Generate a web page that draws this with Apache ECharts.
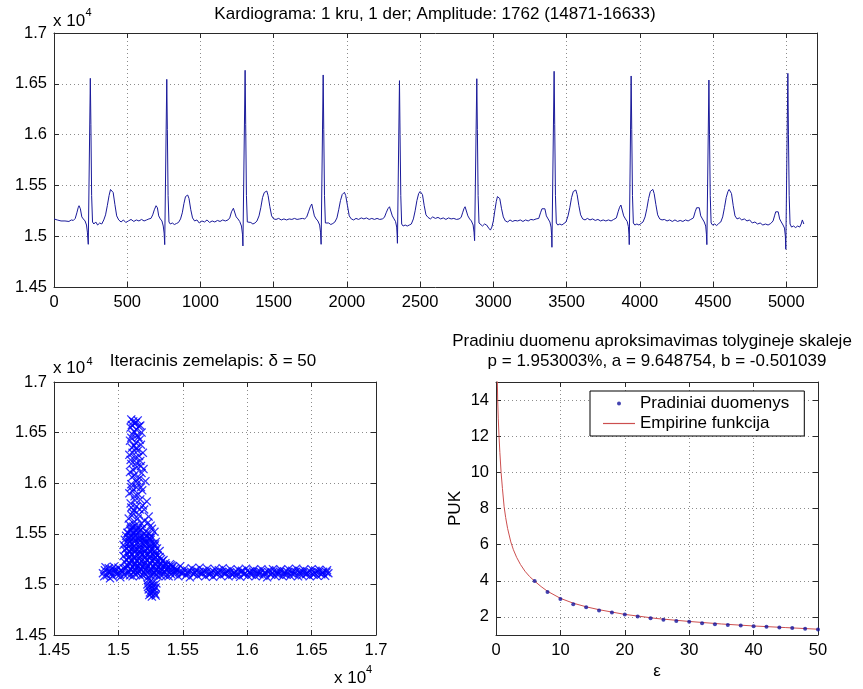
<!DOCTYPE html>
<html><head><meta charset="utf-8">
<script src="https://cdn.jsdelivr.net/npm/echarts@6/dist/echarts.min.js"></script>
<style>html,body{margin:0;padding:0;background:#fff}#c{width:863px;height:689px}</style>
</head><body><div id="c"></div>
<script>
const FONT = '"Liberation Sans", Arial, Helvetica, sans-serif';

// ---------- Titles / labels ----------
const ecgTitle = 'Kardiograma: 1 kru, 1 der; Amplitude: 1762 (14871-16633)';
const mapTitle = 'Iteracinis zemelapis: \u03b4 = 50';
const fitTitle1 = 'Pradiniu duomenu aproksimavimas tolygineje skaleje';
const fitTitle2 = 'p = 1.953003%, a = 9.648754, b = -0.501039';
const fitNames = ['Pradiniai duomenys', 'Empirine funkcija'];

// ---------- ECG (x = sample index, y = value) ----------
const ecgStart = [[0,15170],[10,15180],[22,15160],[35,15175],[48,15150],[60,15165],[75,15150],[88,15160],[102,15145],[118,15160],[132,15155],[145,15175]];
const beat1 = [[156,15230],[165,15280],[171,15300],[180,15270],[190,15190],[200,15170],[212,15150],[222,15110],[228,15040],[234,14920],[248,16554],[252,16100],[257,15400],[263,15140],[272,15120],[285,15140],[298,15110],[312,15130],[326,15120],[340,15160],[352,15210],[364,15300],[376,15400],[386,15460],[394,15471],[404,15430],[416,15310],[428,15200],[442,15160],[458,15140],[474,15160],[490,15135],[508,15150],[526,15165],[545,15145],[562,15160],[580,15150],[598,15165],[615,15150],[632,15160],[648,15170],[662,15175]];
const beat2 = [[674,15210],[685,15260],[697,15300],[706,15280],[715,15200],[726,15170],[737,15150],[746,15100],[752,15030],[756,14917],[770,16544],[774,16050],[779,15400],[785,15140],[794,15120],[808,15130],[822,15115],[836,15125],[850,15135],[864,15170],[876,15230],[887,15320],[898,15390],[906,15400],[913,15405],[922,15370],[934,15260],[946,15180],[960,15150],[976,15160],[992,15130],[1010,15150],[1028,15140],[1045,15160],[1062,15135],[1080,15150],[1098,15140],[1116,15155],[1134,15145],[1152,15160],[1170,15150],[1188,15160]];
const beat3 = [[1200,15180],[1212,15240],[1225,15275],[1234,15260],[1244,15190],[1256,15170],[1268,15145],[1280,15100],[1287,15020],[1290,14904],[1305,16633],[1309,16100],[1314,15400],[1320,15140],[1330,15125],[1344,15135],[1358,15120],[1372,15130],[1386,15150],[1400,15200],[1412,15280],[1424,15380],[1436,15430],[1445,15440],[1453,15445],[1462,15400],[1474,15290],[1486,15200],[1500,15170],[1516,15165],[1534,15175],[1552,15160],[1570,15170],[1588,15160],[1606,15170],[1624,15165],[1642,15175],[1660,15165],[1678,15170],[1696,15175],[1712,15170],[1726,15190]];
const beat4 = [[1738,15240],[1750,15290],[1760,15317],[1769,15300],[1778,15200],[1790,15170],[1802,15150],[1814,15110],[1820,15040],[1824,14920],[1838,16587],[1842,16050],[1847,15400],[1853,15130],[1862,15120],[1876,15130],[1890,15115],[1904,15125],[1918,15140],[1932,15180],[1944,15260],[1956,15350],[1968,15410],[1976,15425],[1983,15432],[1992,15400],[2004,15300],[2016,15200],[2030,15170],[2046,15160],[2062,15175],[2080,15165],[2098,15180],[2116,15170],[2134,15180],[2152,15165],[2170,15175],[2188,15165],[2206,15175],[2224,15165],[2242,15170],[2256,15185]];
const beat5 = [[2268,15230],[2280,15270],[2291,15290],[2300,15275],[2310,15200],[2322,15170],[2332,15145],[2340,15090],[2343,15010],[2345,14930],[2359,16531],[2363,16000],[2368,15400],[2374,15120],[2384,15100],[2398,15110],[2412,15100],[2426,15110],[2440,15120],[2454,15170],[2466,15250],[2478,15350],[2490,15420],[2500,15440],[2507,15445],[2516,15410],[2528,15300],[2540,15210],[2554,15185],[2570,15170],[2586,15190],[2604,15175],[2622,15185],[2640,15170],[2658,15180],[2676,15165],[2694,15180],[2712,15170],[2730,15175],[2748,15165],[2766,15170],[2780,15185]];
const beat6 = [[2790,15230],[2799,15270],[2807,15290],[2816,15275],[2826,15200],[2838,15170],[2850,15150],[2862,15110],[2868,15040],[2872,14956],[2887,16550],[2891,16050],[2896,15400],[2902,15130],[2912,15120],[2926,15100],[2940,15120],[2954,15110],[2968,15080],[2980,15060],[2990,15090],[3000,15150],[3010,15250],[3020,15340],[3028,15390],[3035,15405],[3044,15370],[3056,15270],[3068,15190],[3082,15150],[3098,15140],[3114,15160],[3130,15145],[3148,15155],[3166,15150],[3184,15160],[3202,15145],[3220,15160],[3238,15150],[3256,15165],[3274,15160],[3292,15170],[3310,15175]];
const beat7 = [[3322,15230],[3332,15270],[3342,15284],[3352,15270],[3362,15200],[3374,15170],[3386,15140],[3394,15090],[3398,15010],[3400,14891],[3415,16623],[3419,16100],[3424,15400],[3430,15130],[3440,15110],[3454,15120],[3468,15110],[3482,15125],[3496,15140],[3510,15200],[3522,15280],[3534,15380],[3546,15440],[3555,15450],[3563,15455],[3572,15410],[3584,15300],[3596,15210],[3610,15170],[3626,15160],[3642,15175],[3660,15160],[3678,15170],[3696,15155],[3714,15165],[3732,15150],[3750,15160],[3768,15150],[3786,15160],[3804,15150],[3822,15165],[3840,15180]];
const beat8 = [[3852,15240],[3862,15285],[3871,15307],[3880,15290],[3890,15200],[3902,15170],[3914,15145],[3922,15095],[3926,15020],[3928,14917],[3941,16577],[3945,16050],[3950,15400],[3956,15130],[3966,15110],[3980,15120],[3994,15110],[4008,15125],[4022,15140],[4036,15190],[4048,15270],[4060,15370],[4072,15440],[4082,15455],[4089,15461],[4098,15420],[4110,15310],[4122,15210],[4136,15170],[4152,15160],[4168,15165],[4186,15150],[4204,15160],[4222,15145],[4240,15160],[4258,15145],[4276,15155],[4294,15145],[4312,15160],[4330,15150],[4348,15165],[4366,15180]];
const beat9 = [[4378,15240],[4388,15280],[4397,15297],[4406,15280],[4416,15200],[4428,15170],[4440,15140],[4450,15100],[4455,15020],[4458,14917],[4472,16537],[4476,16000],[4481,15400],[4487,15130],[4497,15110],[4511,15120],[4525,15105],[4539,15125],[4553,15140],[4566,15190],[4578,15280],[4590,15380],[4602,15440],[4610,15460],[4617,15465],[4626,15420],[4638,15300],[4650,15200],[4664,15170],[4680,15180],[4696,15160],[4714,15170],[4732,15150],[4750,15160],[4768,15130],[4786,15140],[4804,15120],[4822,15130],[4840,15110],[4858,15120],[4876,15110],[4894,15125],[4910,15150]];
const beat10 = [[4920,15200],[4928,15240],[4936,15258],[4945,15240],[4955,15170],[4966,15140],[4978,15110],[4988,15080],[4994,15000],[4997,14871],[5011,16603],[5015,16000],[5020,15400],[5026,15120],[5036,15090],[5050,15100],[5064,15085],[5078,15100],[5092,15090],[5102,15120],[5110,15160],[5116,15170],[5120,15120]];

// ---------- Iteration map (x = value(t), y = value(t+50)) ----------
const mapRightArm = [[15420,15170],[15455,15145],[15480,15180],[15510,15150],[15540,15130],[15570,15160],[15600,15140],[15630,15165],[15660,15135],[15690,15155],[15720,15125],[15750,15150],[15780,15140],[15810,15160],[15840,15130],[15870,15150],[15900,15120],[15930,15145],[15960,15135],[15990,15155],[16020,15125],[16050,15145],[16080,15130],[16110,15150],[16140,15120],[16170,15140],[16200,15150],[16230,15130],[16260,15145],[16290,15125],[16320,15150],[16350,15135],[16380,15155],[16410,15130],[16440,15145],[16470,15125],[16500,15150],[16530,15135],[16560,15145],[16590,15125],[16620,15140],
 [15435,15100],[15465,15080],[15495,15110],[15525,15090],[15555,15070],[15585,15100],[15615,15085],[15645,15105],[15675,15080],[15705,15095],[15735,15075],[15765,15100],[15795,15085],[15825,15105],[15855,15080],[15885,15095],[15915,15090],[15945,15075],[15975,15100],[16005,15085],[16035,15095],[16065,15080],[16095,15100],[16125,15085],[16155,15070],[16185,15095],[16215,15085],[16245,15100],[16275,15080],[16305,15095],[16335,15085],[16365,15100],[16395,15080],[16425,15090],[16455,15100],[16485,15080],[16515,15095],[16545,15085],[16575,15100],[16605,15085],[16630,15110],
 [15445,15120],[15475,15125],[15505,15115],[15535,15110],[15565,15125],[15595,15115],[15625,15120],[15655,15110],[15685,15125],[15715,15105],[15745,15120],[15775,15115],[15805,15125],[15835,15110],[15865,15120],[15895,15105],[15925,15115],[15955,15125],[15985,15110],[16015,15115],[16045,15125],[16075,15105],[16105,15120],[16135,15110],[16165,15120],[16195,15115],[16225,15110],[16255,15125],[16285,15105],[16315,15120],[16345,15110],[16375,15125],[16405,15110],[16435,15120],[16465,15105],[16495,15120],[16525,15110],[16555,15120],[16585,15110],[16615,15120]];
const mapLeftArm = [[14880,15110],[14895,15140],[14910,15090],[14925,15160],[14940,15120],[14955,15080],[14970,15145],[14985,15100],[15000,15165],[15015,15070],[15030,15130],[15045,15095],[14900,15170],[14935,15060],[14965,15175],[15005,15120],
 [14890,15080],[14920,15125],[14950,15150],[14980,15130],[15010,15095],[15040,15160],[15020,15140],[14945,15100]];
const mapStem = [[15100,16630],[15150,16620],[15125,16590],[15170,16570],[15095,16550],[15140,16530],[15180,16500],[15110,16480],[15155,16455],[15090,16420],[15135,16400],[15175,16380],[15105,16350],[15150,16320],[15190,16300],[15085,16280],[15130,16250],[15170,16220],[15100,16190],[15145,16160],[15195,16140],[15090,16110],[15125,16080],[15165,16050],[15210,16020],[15100,15990],[15140,15960],[15185,15930],[15085,15900],[15125,15870],[15170,15840],[15220,15820],[15095,15800],[15140,15770],[15200,15740],[15110,15710],[15160,15690],[15235,15670],[15080,15650],[15125,15620],[15180,15600],[15250,15580],[15100,15560],[15150,15540],[15215,15520],[15070,15510],
 [15115,16610],[15160,16560],[15120,16510],[15165,16430],[15120,16370],[15110,16300],[15160,16270],[15115,16130],[15180,16100],[15150,16000],[15110,15920],[15155,15890],[15190,15780],[15120,15730],[15150,15650],[15200,15630],[15085,15590],[15260,15550],
 [15135,16600],[15105,16575],[15145,16475],[15100,16450],[15140,16350],[15095,16230],[15140,16200],[15175,16170],[15105,16060],[15145,16030],[15100,15960],[15175,15960],[15130,15830],[15100,15760],[15165,15740],[15105,15680],[15130,15580],[15190,15560],[15230,15610],[15095,15530],[15240,15500],[15280,15520]];
const mapCore = [[15060,15480],[15100,15470],[15140,15490],[15180,15460],[15220,15480],[15260,15470],
 [15050,15440],[15090,15420],[15130,15440],[15170,15430],[15210,15410],[15250,15440],[15290,15420],
 [15040,15390],[15080,15370],[15120,15380],[15160,15360],[15200,15390],[15240,15370],[15280,15380],
 [15050,15340],[15090,15320],[15130,15330],[15170,15310],[15210,15340],[15250,15320],[15290,15300],[15320,15330],
 [15040,15280],[15080,15260],[15120,15270],[15160,15250],[15200,15280],[15240,15260],[15280,15250],[15320,15270],[15350,15240],
 [15050,15220],[15090,15200],[15130,15210],[15170,15190],[15210,15220],[15250,15200],[15290,15190],[15330,15210],[15370,15190],[15400,15200],
 [15060,15160],[15100,15150],[15140,15170],[15180,15140],[15220,15160],[15260,15130],[15300,15150],[15340,15140],[15380,15160],
 [15070,15100],[15110,15080],[15150,15110],[15190,15090],[15230,15070],[15270,15100],[15310,15080],[15350,15100],[15390,15080],
 [15080,15455],[15120,15465],[15160,15450],[15200,15460],[15240,15455],
 [15070,15405],[15110,15400],[15150,15410],[15190,15400],[15230,15405],[15270,15400],
 [15060,15355],[15100,15350],[15140,15345],[15180,15350],[15220,15355],[15260,15345],[15300,15355],
 [15070,15300],[15110,15295],[15150,15290],[15190,15300],[15230,15295],[15270,15290],[15305,15285],
 [15060,15245],[15100,15240],[15140,15235],[15180,15230],[15220,15240],[15260,15235],[15300,15225],[15340,15230],
 [15070,15185],[15110,15175],[15150,15180],[15190,15170],[15230,15185],[15270,15175],[15310,15170],[15350,15180],[15390,15170],[15420,15180],
 [15080,15125],[15120,15120],[15160,15130],[15200,15115],[15240,15125],[15280,15115],[15320,15120],[15360,15125],[15400,15115],
 [15075,15510],[15115,15505],[15155,15515],[15195,15500],[15135,15530],[15095,15545],[15175,15540],[15115,15570],[15155,15560],
 [15085,15465],[15125,15475],[15165,15470],[15205,15440],[15245,15460],
 [15085,15415],[15125,15420],[15165,15395],[15205,15425],[15245,15400],[15285,15395],
 [15085,15330],[15125,15345],[15165,15330],[15205,15320],[15245,15335],[15285,15330],
 [15085,15275],[15125,15255],[15165,15275],[15205,15260],[15245,15280],[15285,15270],[15330,15250],
 [15085,15215],[15125,15195],[15165,15215],[15205,15200],[15245,15215],[15285,15210],[15325,15195],[15365,15210],[15410,15190],[15440,15160],
 [15090,15150],[15130,15140],[15170,15160],[15210,15145],[15250,15155],[15290,15135],[15330,15155],[15370,15145],[15410,15150],[15445,15140],
 [15090,15090],[15130,15100],[15170,15085],[15210,15100],[15250,15090],[15290,15095],[15330,15090],[15370,15085],[15410,15100]];
const mapLowStem = [[15230,15040],[15270,15020],[15250,14990],[15290,14970],[15235,14950],[15275,14930],[15255,14910],[15290,14890],[15240,14895],[15265,14960],[15225,15000],[15295,15010],[15260,14880],
 [15245,14920],[15280,14950],[15250,15030],[15285,14905],[15230,14975],[15270,14990]];

// ---------- Approximation ----------
const epsValues = [6,8,10,12,14,16,18,20,22,24,26,28,30,32,34,36,38,40,42,44,46,48,50];
const pukValues = [3.99,3.38,2.99,2.70,2.53,2.35,2.24,2.13,2.02,1.93,1.84,1.78,1.73,1.65,1.60,1.56,1.52,1.49,1.45,1.41,1.39,1.34,1.30];
const curveX = [0.2,0.26,0.35,0.47,0.6,0.79,1.0,1.26,1.5,1.8,2.3,2.7,3.2,3.8,4.5,5.2,6,7,8,10,12,14,16,20,25,30,35,40,45,50];
const curveY = [15.2,14,13,12,11.1,10,9.1,8.1,7.5,6.9,6.15,5.72,5.3,4.9,4.53,4.24,3.98,3.68,3.42,3.03,2.76,2.56,2.40,2.14,1.91,1.75,1.61,1.50,1.41,1.32];

// ---------- build ----------
const ecgData = [].concat(ecgStart, beat1, beat2, beat3, beat4, beat5, beat6, beat7, beat8, beat9, beat10);
const mapData = [].concat(mapLeftArm, mapRightArm, mapStem, mapCore, mapLowStem);
const dotData = epsValues.map((e, i) => [e, pukValues[i]]);
const curveData = curveX.map((x, i) => [x, curveY[i]]);

const AX = '#2a2a2a';
const e4 = v => String(+(v / 10000).toFixed(4));
function axis(gridIndex, min, max, interval, pos, main, fmt, extra) {
  const a = {
    type: 'value', gridIndex, min, max, position: pos,
    axisLine: {show: true, onZero: false, lineStyle: {color: AX, width: 1}},
    axisTick: {show: true, inside: true, length: 5, lineStyle: {color: AX}},
    axisLabel: {show: main, color: '#000', fontSize: 16.5, fontFamily: FONT, margin: 7,
      formatter: fmt, showMinLabel: true, showMaxLabel: true, hideOverlap: false},
    splitLine: {show: main, lineStyle: {color: '#8c8c8c', width: 1, type: [1, 3]}}
  };
  if (interval != null) a.interval = interval; else a.splitNumber = 7;
  return Object.assign(a, extra || {});
}
const xFmt0 = v => (v % 500 === 0 ? String(v) : '');
const yFmt2 = v => (v % 2 === 0 ? String(v) : '');

const xMarker = 'path://M0,1L1,0L5,4L9,0L10,1L6,5L10,9L9,10L5,6L1,10L0,9L4,5Z';
const lineIcon = 'path://M0,0L32,0L32,1.2L0,1.2Z';
const txt = (text, x, y, size, align) => ({type: 'text', x, y, style: {text, fill: '#000',
  font: size + 'px ' + FONT, textAlign: align || 'left', textVerticalAlign: 'middle'}});
const tstyle = {fontSize: 17, fontWeight: 'normal', fontFamily: FONT, color: '#000'};

const option = {
  animation: false,
  backgroundColor: '#fff',
  title: [
    {text: ecgTitle, left: 435, top: 6, textAlign: 'center', padding: 0, textStyle: tstyle},
    {text: mapTitle, left: 213, top: 353, textAlign: 'center', padding: 0, textStyle: tstyle},
    {text: fitTitle1, left: 652, top: 333, textAlign: 'center', padding: 0, textStyle: tstyle},
    {text: fitTitle2, left: 657, top: 353, textAlign: 'center', padding: 0, textStyle: tstyle}
  ],
  grid: [
    {left: 54, top: 33, width: 763, height: 254},
    {left: 54, top: 382, width: 322, height: 253},
    {left: 496, top: 382, width: 322, height: 253}
  ],
  xAxis: [
    axis(0, 0, 5210, 500, 'bottom', true, xFmt0),
    axis(0, 0, 5210, 500, 'top', false),
    axis(1, 14500, 17000, 500, 'bottom', true, e4),
    axis(1, 14500, 17000, 500, 'top', false),
    axis(2, 0, 50, 10, 'bottom', true, v => String(v), {name: '\u03b5', nameLocation: 'middle', nameGap: 28,
      nameTextStyle: {fontSize: 17, fontFamily: FONT, color: '#000'}}),
    axis(2, 0, 50, 10, 'top', false)
  ],
  yAxis: [
    axis(0, 14500, 17000, 500, 'left', true, e4),
    axis(0, 14500, 17000, 500, 'right', false),
    axis(1, 14500, 17000, 500, 'left', true, e4),
    axis(1, 14500, 17000, 500, 'right', false),
    axis(2, 1, 15, null, 'left', true, yFmt2, {name: 'PUK', nameLocation: 'middle', nameGap: 32,
      nameTextStyle: {fontSize: 17, fontFamily: FONT, color: '#000'}}),
    axis(2, 1, 15, null, 'right', false)
  ],
  legend: {
    left: 590, top: 391, orient: 'vertical', selectedMode: false,
    data: [{name: fitNames[0], icon: 'circle'}, {name: fitNames[1], icon: lineIcon}],
    itemWidth: 32, itemHeight: 4, itemGap: 3, padding: [4, 15, 4, 13],
    borderColor: '#000', borderWidth: 1, backgroundColor: '#fff', borderRadius: 0,
    textStyle: {fontSize: 17, fontFamily: FONT, color: '#000'}
  },
  series: [
    {type: 'line', xAxisIndex: 0, yAxisIndex: 0, data: ecgData, symbol: 'none', showSymbol: false,
      lineStyle: {color: '#1a1a9a', width: 1}, silent: true},
    {type: 'scatter', xAxisIndex: 2, yAxisIndex: 2, data: mapData, symbol: xMarker, symbolSize: 9,
      itemStyle: {color: '#0000ff'}, silent: true},
    {name: fitNames[1], type: 'line', xAxisIndex: 4, yAxisIndex: 4, data: curveData, symbol: 'none',
      showSymbol: false, lineStyle: {color: '#cc4f4f', width: 1}, itemStyle: {color: '#cc4f4f'}, silent: true},
    {name: fitNames[0], type: 'scatter', xAxisIndex: 4, yAxisIndex: 4, data: dotData, symbol: 'circle',
      symbolSize: 4, itemStyle: {color: '#14149c'}, z: 5, silent: true}
  ],
  graphic: [
    txt('x 10', 53, 21, 17), txt('4', 85.5, 13, 11),
    txt('x 10', 53, 368, 17), txt('4', 86.5, 362, 11),
    txt('x 10', 334, 678, 17), txt('4', 366, 670, 11)
  ]
};
const chart = echarts.init(document.getElementById('c'), null, {renderer: 'canvas'});
chart.setOption(option);
</script></body></html>
